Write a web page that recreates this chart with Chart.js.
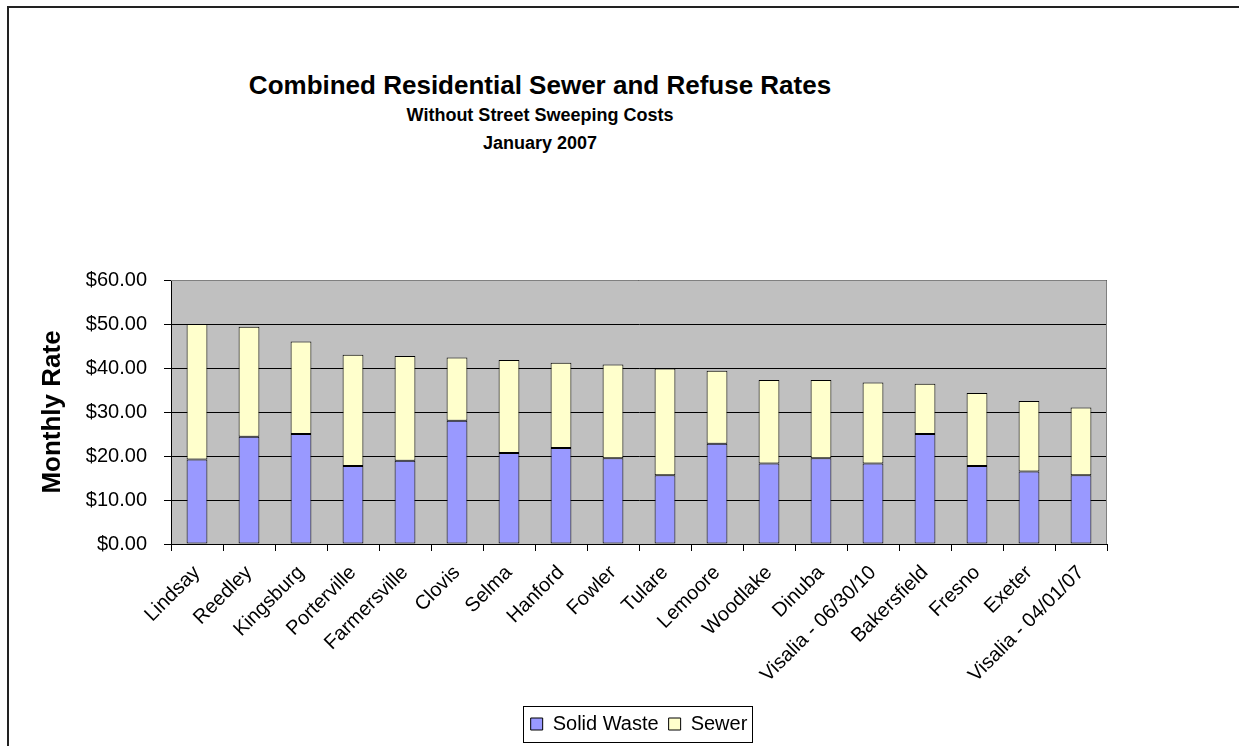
<!DOCTYPE html>
<html>
<head>
<meta charset="utf-8">
<script src="https://cdn.jsdelivr.net/npm/chart.js"></script>
<style>
  html, body { margin: 0; padding: 0; background: #fff; overflow: hidden; }
  body { width: 1239px; height: 746px; position: relative; font-family: 'Liberation Sans', Arial, sans-serif; }
  #frame { position: absolute; left: 7px; top: 6px; width: 2000px; height: 2000px; border-left: 2px solid #222; border-top: 2px solid #222; }
  #titles { position: absolute; left: 0; top: 70px; width: 1080px; text-align: center; font-weight: bold; color: #000; }
  #titles .main { font-size: 26px; line-height: 31px; }
  #titles .sub { font-size: 18px; line-height: 28px; }
  canvas { position: absolute; left: 0; top: 0; }
</style>
</head>
<body>
<div id="frame"></div>
<div id="titles">
  <div class="main">Combined Residential Sewer and Refuse Rates</div>
  <div class="sub">Without Street Sweeping Costs</div>
  <div class="sub">January 2007</div>
</div>
<canvas id="chart" width="1239" height="746"></canvas>
<script>
// values
const cities = ['Lindsay', 'Reedley', 'Kingsburg', 'Porterville', 'Farmersville', 'Clovis', 'Selma', 'Hanford', 'Fowler',
  'Tulare', 'Lemoore', 'Woodlake', 'Dinuba', 'Visalia - 06/30/10', 'Bakersfield', 'Fresno', 'Exeter', 'Visalia - 04/01/07']
const solidWaste = [19.2, 24.4, 25.0, 17.7, 18.9, 28.0, 20.7, 21.8, 19.5, 15.6, 22.8, 18.3, 19.5, 18.3, 25.0, 17.7, 16.5, 15.6]
const sewer = [30.8, 25.0, 21.0, 25.3, 23.8, 14.4, 21.1, 19.4, 21.3, 24.3, 16.6, 19.0, 17.8, 18.4, 11.4, 16.6, 16.0, 15.4]
const yTicks = [0, 10, 20, 30, 40, 50, 60]

const font = "'Liberation Sans', Arial, sans-serif"

const plotBg = {
  id: 'plotBg',
  beforeDraw(chart) {
    const { ctx, chartArea: a } = chart
    ctx.save()
    ctx.fillStyle = '#c0c0c0'
    ctx.fillRect(a.left, a.top, a.right - a.left, a.bottom - a.top)
    ctx.restore()
  },
  afterDraw(chart) {
    const { ctx, chartArea: a } = chart
    ctx.save()
    ctx.strokeStyle = '#808080'
    ctx.lineWidth = 1
    ctx.beginPath()
    ctx.moveTo(a.left, a.top + 0.5)
    ctx.lineTo(a.right - 0.5, a.top + 0.5)
    ctx.lineTo(a.right - 0.5, a.bottom)
    ctx.stroke()
    // frame round the legend
    const boxes = chart.legend.legendHitBoxes
    if (boxes && boxes.length) {
      const l = Math.min(...boxes.map(b => b.left)) - 8
      const r = Math.max(...boxes.map(b => b.left + b.width)) + 4
      const t = Math.min(...boxes.map(b => b.top)) - 8
      const btm = Math.max(...boxes.map(b => b.top + b.height)) + 8
      ctx.strokeStyle = '#000'
      ctx.strokeRect(Math.round(l) + 0.5, Math.round(t) + 0.5, Math.round(r - l), Math.round(btm - t))
    }
    ctx.restore()
  }
}

new Chart(document.getElementById('chart'), {
  type: 'bar',
  data: {
    labels: cities,
    datasets: [
      { label: 'Solid Waste', data: solidWaste, backgroundColor: '#9999ff', borderColor: '#000', borderWidth: 1, borderSkipped: false },
      { label: 'Sewer', data: sewer, backgroundColor: '#ffffcc', borderColor: '#000', borderWidth: 1, borderSkipped: false }
    ]
  },
  options: {
    responsive: false,
    animation: false,
    layout: { padding: { left: 30, right: 132, top: 280, bottom: 2 } },
    datasets: { bar: { barPercentage: 0.4, categoryPercentage: 1.0 } },
    plugins: {
      legend: {
        position: 'bottom',
        fullSize: false,
        labels: { boxWidth: 12, boxHeight: 12, padding: 10, color: '#000', font: { family: font, size: 20 } }
      },
      tooltip: { enabled: false }
    },
    scales: {
      x: {
        stacked: true,
        afterFit: s => { s.height = 160 },
        grid: { offset: true, drawOnChartArea: false, drawTicks: true, tickLength: 7, color: '#000' },
        border: { color: '#000' },
        ticks: { minRotation: 45, maxRotation: 45, padding: 10, autoSkip: false, color: '#000', font: { family: font, size: 20 } }
      },
      y: {
        stacked: true,
        min: 0,
        max: 60,
        afterFit: s => { s.width = 141 },
        afterBuildTicks: s => { s.ticks = yTicks.map(v => ({ value: v })) },
        grid: { color: '#000', tickLength: 7 },
        border: { color: '#000' },
        ticks: { padding: 17, color: '#000', font: { family: font, size: 20 }, callback: v => '$' + Number(v).toFixed(2) },
        title: { display: true, text: 'Monthly Rate', color: '#000', padding: { top: 7, bottom: 0 }, font: { family: font, size: 26, weight: 'bold' } }
      }
    }
  },
  plugins: [plotBg]
})
</script>
</body>
</html>
